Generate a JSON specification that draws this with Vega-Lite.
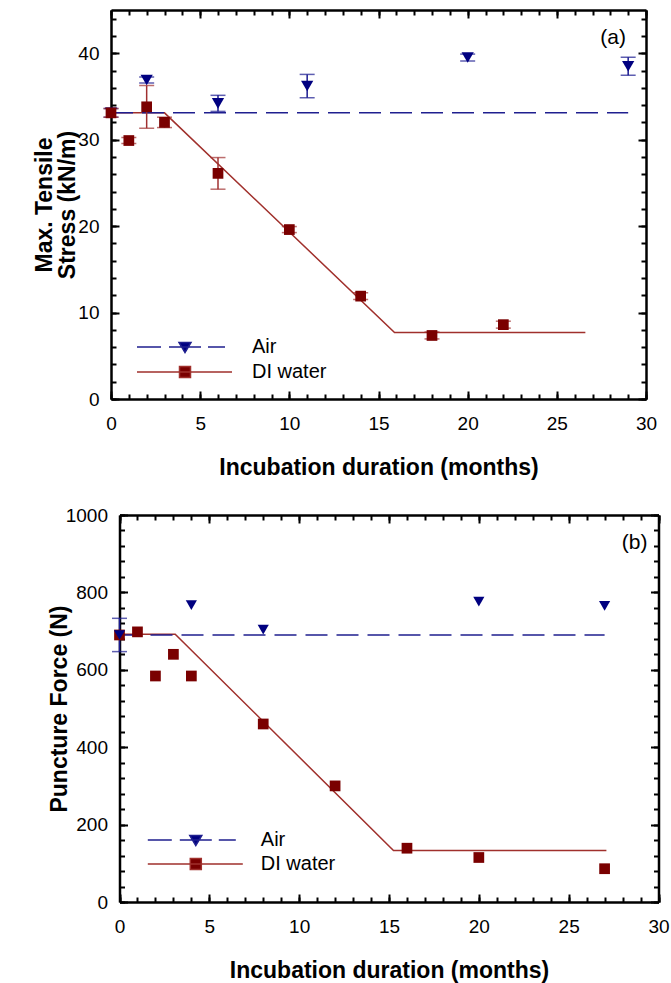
{
  "$schema": "https://vega.github.io/schema/vega-lite/v6.json",
  "padding": {"left": 33, "top": 9, "right": 5, "bottom": 2},
  "spacing": 116,
  "bounds": "flush",
  "datasets": {
    "a_pts": [
      {"s": "Air", "x": 0, "y": 33.1, "e": 0.5},
      {"s": "Air", "x": 2, "y": 36.9, "e": 0.35},
      {"s": "Air", "x": 6, "y": 34.2, "e": 0.93},
      {"s": "Air", "x": 11, "y": 36.2, "e": 1.35},
      {"s": "Air", "x": 20, "y": 39.5, "e": 0.4},
      {"s": "Air", "x": 29, "y": 38.5, "e": 1.04},
      {"s": "DI water", "x": 0, "y": 33.1, "e": 0.5},
      {"s": "DI water", "x": 1, "y": 29.9, "e": 0.35},
      {"s": "DI water", "x": 2, "y": 33.8, "e": 2.47},
      {"s": "DI water", "x": 3, "y": 32.0, "e": 0.6},
      {"s": "DI water", "x": 6, "y": 26.1, "e": 1.83},
      {"s": "DI water", "x": 10, "y": 19.6, "e": 0.35},
      {"s": "DI water", "x": 14, "y": 11.9, "e": 0.4},
      {"s": "DI water", "x": 18, "y": 7.35, "e": 0.4},
      {"s": "DI water", "x": 22, "y": 8.6, "e": 0.4}
    ],
    "a_fit": [
      {"s": "Air", "x": 0, "y": 33.1},
      {"s": "Air", "x": 29, "y": 33.1},
      {"s": "DI water", "x": 0, "y": 33.1},
      {"s": "DI water", "x": 3, "y": 33.1},
      {"s": "DI water", "x": 15.9, "y": 7.7},
      {"s": "DI water", "x": 26.6, "y": 7.7}
    ],
    "b_pts": [
      {"s": "DI water", "x": 0, "y": 690, "e": 0},
      {"s": "DI water", "x": 1, "y": 698, "e": 0},
      {"s": "DI water", "x": 2, "y": 584, "e": 0},
      {"s": "DI water", "x": 3, "y": 640, "e": 0},
      {"s": "DI water", "x": 4, "y": 584, "e": 0},
      {"s": "DI water", "x": 8, "y": 460, "e": 0},
      {"s": "DI water", "x": 12, "y": 300, "e": 0},
      {"s": "DI water", "x": 16, "y": 139, "e": 0},
      {"s": "DI water", "x": 20, "y": 115, "e": 0},
      {"s": "DI water", "x": 27, "y": 86, "e": 0},
      {"s": "Air", "x": 0, "y": 690, "e": 43},
      {"s": "Air", "x": 4, "y": 767, "e": 0},
      {"s": "Air", "x": 8, "y": 704, "e": 0},
      {"s": "Air", "x": 20, "y": 776, "e": 0},
      {"s": "Air", "x": 27, "y": 765, "e": 0}
    ],
    "b_fit": [
      {"s": "Air", "x": 0, "y": 690},
      {"s": "Air", "x": 27, "y": 690},
      {"s": "DI water", "x": 0, "y": 692},
      {"s": "DI water", "x": 3.1, "y": 692},
      {"s": "DI water", "x": 15.25, "y": 133},
      {"s": "DI water", "x": 27.1, "y": 133}
    ]
  },
  "vconcat": [
    {
      "width": 535,
      "height": 389,
      "title": {"text": "(a)", "anchor": "end", "frame": "group", "orient": "top", "offset": -39, "baseline": "top", "dx": -20, "fontSize": 21, "fontWeight": "normal", "font": "Liberation Sans", "color": "black"},
      "resolve": {"axis": {"x": "independent", "y": "independent"}, "scale": {"shape": "independent", "fill": "independent", "stroke": "independent", "size": "independent"}},
      "layer": [
        {
          "data": {"name": "a_fit"},
          "transform": [{"filter": "datum.s === 'DI water'"}],
          "mark": {"type": "line", "color": "#a0302c", "strokeWidth": 1.5},
          "encoding": {
            "x": {"field": "x", "type": "quantitative", "scale": {"domain": [0, 30], "nice": false},
              "axis": {"orient": "bottom", "values": [0, 5, 10, 15, 20, 25, 30], "ticks": false, "tickSize": 0, "labelPadding": 15, "title": "Incubation duration (months)", "titlePadding": 23}},
            "y": {"field": "y", "type": "quantitative", "scale": {"domain": [0, 45], "nice": false},
              "axis": {"orient": "left", "values": [0, 10, 20, 30, 40], "ticks": false, "tickSize": 0, "labelPadding": 12, "title": ["Max. Tensile", "Stress (kN/m)"], "titlePadding": -2, "titleLineHeight": 23}}
          }
        },
        {
          "data": {"name": "a_fit"},
          "transform": [{"filter": "datum.s === 'Air'"}],
          "mark": {"type": "line", "color": "#1f1f8f", "strokeWidth": 1.5, "strokeDash": [22, 9]},
          "encoding": {
            "x": {"field": "x", "type": "quantitative", "scale": {"domain": [0, 30], "nice": false},
              "axis": {"orient": "top", "values": [0, 30], "ticks": false, "labels": false, "domain": true, "title": null}},
            "y": {"field": "y", "type": "quantitative", "scale": {"domain": [0, 45], "nice": false},
              "axis": {"orient": "right", "values": [0, 45], "ticks": false, "labels": false, "domain": true, "title": null}}
          }
        },
        {
          "data": {"name": "a_pts"},
          "transform": [{"filter": "datum.s === 'Air' && datum.e > 0"}],
          "mark": {"type": "errorbar", "ticks": true, "size": 15, "thickness": 1.5, "color": "#1a1a90"},
          "encoding": {
            "x": {"field": "x", "type": "quantitative", "scale": {"domain": [0, 30], "nice": false}, "axis": null},
            "y": {"field": "y", "type": "quantitative", "scale": {"domain": [0, 45], "nice": false}, "axis": null},
            "yError": {"field": "e"}
          }
        },
        {
          "data": {"name": "a_pts"},
          "transform": [{"filter": "datum.s === 'DI water' && datum.e > 0"}],
          "mark": {"type": "errorbar", "ticks": true, "size": 15, "thickness": 1.5, "color": "#a03030"},
          "encoding": {
            "x": {"field": "x", "type": "quantitative", "scale": {"domain": [0, 30], "nice": false}, "axis": null},
            "y": {"field": "y", "type": "quantitative", "scale": {"domain": [0, 45], "nice": false}, "axis": null},
            "yError": {"field": "e"}
          }
        },
        {
          "data": {"name": "a_pts"},
          "mark": {"type": "point", "filled": true, "opacity": 1, "strokeWidth": 0},
          "encoding": {
            "x": {"field": "x", "type": "quantitative", "scale": {"domain": [0, 30], "nice": false},
              "axis": {"orient": "top", "offset": -389, "values": [0, 5, 10, 15, 20, 25, 30], "ticks": true, "tickSize": 8, "labels": false, "domain": false, "title": null}},
            "y": {"field": "y", "type": "quantitative", "scale": {"domain": [0, 45], "nice": false},
              "axis": {"orient": "right", "offset": -535, "values": [0, 10, 20, 30, 40], "ticks": true, "tickSize": 8, "labels": false, "domain": false, "title": null}},
            "shape": {"field": "s", "type": "nominal", "scale": {"domain": ["Air", "DI water"], "range": ["triangle-down", "square"]}, "legend": null},
            "fill": {"field": "s", "type": "nominal", "scale": {"domain": ["Air", "DI water"], "range": ["#000080", "#7a0000"]}, "legend": null},
            "size": {"field": "s", "type": "nominal", "scale": {"domain": ["Air", "DI water"], "range": [150, 115]}, "legend": null}
          }
        },
        {
          "data": {"name": "a_pts"},
          "mark": {"type": "point", "opacity": 0},
          "encoding": {
            "x": {"field": "x", "type": "quantitative", "scale": {"domain": [0, 30], "nice": false},
              "axis": {"orient": "top", "offset": -389, "values": [0,1,2,3,4,5,6,7,8,9,10,11,12,13,14,15,16,17,18,19,20,21,22,23,24,25,26,27,28,29,30], "ticks": true, "tickSize": 5, "labels": false, "domain": false, "title": null}},
            "y": {"field": "y", "type": "quantitative", "scale": {"domain": [0, 45], "nice": false},
              "axis": {"orient": "right", "offset": -535, "values": [0,2,4,6,8,10,12,14,16,18,20,22,24,26,28,30,32,34,36,38,40,42,44], "ticks": true, "tickSize": 5, "labels": false, "domain": false, "title": null}}
          }
        },
        {
          "data": {"name": "a_pts"},
          "mark": {"type": "point", "opacity": 0},
          "encoding": {
            "x": {"field": "x", "type": "quantitative", "scale": {"domain": [0, 30], "nice": false},
              "axis": {"orient": "bottom", "offset": -389, "values": [0, 5, 10, 15, 20, 25, 30], "ticks": true, "tickSize": 8, "labels": false, "domain": false, "title": null}},
            "y": {"field": "y", "type": "quantitative", "scale": {"domain": [0, 45], "nice": false},
              "axis": {"orient": "left", "offset": -535, "values": [0, 10, 20, 30, 40], "ticks": true, "tickSize": 8, "labels": false, "domain": false, "title": null}}
          }
        },
        {
          "data": {"name": "a_pts"},
          "mark": {"type": "point", "filled": true, "opacity": 0, "size": 400},
          "encoding": {
            "x": {"field": "x", "type": "quantitative", "scale": {"domain": [0, 30], "nice": false},
              "axis": {"orient": "bottom", "offset": -389, "values": [0,1,2,3,4,5,6,7,8,9,10,11,12,13,14,15,16,17,18,19,20,21,22,23,24,25,26,27,28,29,30], "ticks": true, "tickSize": 5, "labels": false, "domain": false, "title": null}},
            "y": {"field": "y", "type": "quantitative", "scale": {"domain": [0, 45], "nice": false},
              "axis": {"orient": "left", "offset": -535, "values": [0,2,4,6,8,10,12,14,16,18,20,22,24,26,28,30,32,34,36,38,40,42,44], "ticks": true, "tickSize": 5, "labels": false, "domain": false, "title": null}},
            "shape": {"field": "s", "type": "nominal", "scale": {"domain": ["Air", "DI water"], "range": ["M-4.8,0H-2.4M-1.6,0H1.6M2.3,0H4.0M-0.6,-0.45L0.6,-0.45L0,0.55Z", "M-4.8,0H4.7M-0.55,-0.55H0.55V0.55H-0.55Z"]},
              "legend": {"orient": "none", "legendX": 63, "legendY": 326, "title": null, "labelOffset": 56, "symbolSize": 400, "symbolStrokeWidth": 1.5, "symbolOpacity": 1, "rowPadding": 4, "padding": 0,
                "encode": {"symbols": {"update": {"fill": {"signal": "datum.value === 'Air' ? '#000080' : '#7a0000'"}, "fillOpacity": {"value": 1}, "opacity": {"value": 1}}}}}},
            "fill": {"field": "s", "type": "nominal", "scale": {"domain": ["Air", "DI water"], "range": ["#000080", "#7a0000"]},
              "legend": {"orient": "none", "legendX": 63, "legendY": 326, "title": null, "labelOffset": 56, "symbolSize": 400, "symbolStrokeWidth": 1.5, "symbolOpacity": 1, "rowPadding": 4, "padding": 0,
                "encode": {"symbols": {"update": {"fill": {"signal": "datum.value === 'Air' ? '#000080' : '#7a0000'"}, "fillOpacity": {"value": 1}, "opacity": {"value": 1}}}}}},
            "stroke": {"field": "s", "type": "nominal", "scale": {"domain": ["Air", "DI water"], "range": ["#1f1f8f", "#a0302c"]},
              "legend": {"orient": "none", "legendX": 63, "legendY": 326, "title": null, "labelOffset": 56, "symbolSize": 400, "symbolStrokeWidth": 1.5, "symbolOpacity": 1, "rowPadding": 4, "padding": 0,
                "encode": {"symbols": {"update": {"fill": {"signal": "datum.value === 'Air' ? '#000080' : '#7a0000'"}, "fillOpacity": {"value": 1}, "opacity": {"value": 1}}}}}}
          }
        }
      ]
    },
    {
      "width": 547.5,
      "height": 387,
      "title": {"text": "(b)", "anchor": "end", "frame": "group", "orient": "top", "offset": -47, "baseline": "top", "dx": -11, "fontSize": 21, "fontWeight": "normal", "font": "Liberation Sans", "color": "black"},
      "resolve": {"axis": {"x": "independent", "y": "independent"}, "scale": {"shape": "independent", "fill": "independent", "stroke": "independent", "size": "independent"}},
      "layer": [
        {
          "data": {"name": "b_fit"},
          "transform": [{"filter": "datum.s === 'DI water'"}],
          "mark": {"type": "line", "color": "#a0302c", "strokeWidth": 1.5},
          "encoding": {
            "x": {"field": "x", "type": "quantitative", "scale": {"domain": [0, 30], "nice": false, "rangeMin": 8.5},
              "axis": {"orient": "bottom", "values": [0, 5, 10, 15, 20, 25, 30], "ticks": false, "tickSize": 0, "labelPadding": 15, "title": "Incubation duration (months)", "titlePadding": 23}},
            "y": {"field": "y", "type": "quantitative", "scale": {"domain": [0, 1000], "nice": false},
              "axis": {"orient": "left", "offset": -8.5, "values": [0, 200, 400, 600, 800, 1000], "format": "d", "ticks": false, "tickSize": 0, "labelPadding": 12, "title": "Puncture Force (N)", "titlePadding": -6}}
          }
        },
        {
          "data": {"name": "b_fit"},
          "transform": [{"filter": "datum.s === 'Air'"}],
          "mark": {"type": "line", "color": "#1f1f8f", "strokeWidth": 1.5, "strokeDash": [22, 9]},
          "encoding": {
            "x": {"field": "x", "type": "quantitative", "scale": {"domain": [0, 30], "nice": false, "rangeMin": 8.5},
              "axis": {"orient": "top", "values": [0, 30], "ticks": false, "labels": false, "domain": true, "title": null}},
            "y": {"field": "y", "type": "quantitative", "scale": {"domain": [0, 1000], "nice": false},
              "axis": {"orient": "right", "values": [0, 1000], "ticks": false, "labels": false, "domain": true, "title": null}}
          }
        },
        {
          "data": {"name": "b_pts"},
          "transform": [{"filter": "datum.s === 'Air' && datum.e > 0"}],
          "mark": {"type": "errorbar", "ticks": true, "size": 15, "thickness": 1.5, "color": "#1a1a90"},
          "encoding": {
            "x": {"field": "x", "type": "quantitative", "scale": {"domain": [0, 30], "nice": false, "rangeMin": 8.5}, "axis": null},
            "y": {"field": "y", "type": "quantitative", "scale": {"domain": [0, 1000], "nice": false}, "axis": null},
            "yError": {"field": "e"}
          }
        },
        {
          "data": {"name": "b_pts"},
          "mark": {"type": "point", "filled": true, "opacity": 1, "strokeWidth": 0},
          "encoding": {
            "x": {"field": "x", "type": "quantitative", "scale": {"domain": [0, 30], "nice": false, "rangeMin": 8.5},
              "axis": {"orient": "top", "offset": -387, "values": [0, 5, 10, 15, 20, 25, 30], "ticks": true, "tickSize": 8, "labels": false, "domain": false, "title": null}},
            "y": {"field": "y", "type": "quantitative", "scale": {"domain": [0, 1000], "nice": false},
              "axis": {"orient": "right", "offset": -539, "values": [0, 200, 400, 600, 800, 1000], "ticks": true, "tickSize": 8, "labels": false, "domain": false, "title": null}},
            "shape": {"field": "s", "type": "nominal", "scale": {"domain": ["Air", "DI water"], "range": ["triangle-down", "square"]}, "legend": null},
            "fill": {"field": "s", "type": "nominal", "scale": {"domain": ["Air", "DI water"], "range": ["#000080", "#7a0000"]}, "legend": null},
            "size": {"field": "s", "type": "nominal", "scale": {"domain": ["Air", "DI water"], "range": [125, 115]}, "legend": null}
          }
        },
        {
          "data": {"name": "b_pts"},
          "mark": {"type": "point", "opacity": 0},
          "encoding": {
            "x": {"field": "x", "type": "quantitative", "scale": {"domain": [0, 30], "nice": false, "rangeMin": 8.5},
              "axis": {"orient": "top", "offset": -387, "values": [0,1,2,3,4,5,6,7,8,9,10,11,12,13,14,15,16,17,18,19,20,21,22,23,24,25,26,27,28,29,30], "ticks": true, "tickSize": 5, "labels": false, "domain": false, "title": null}},
            "y": {"field": "y", "type": "quantitative", "scale": {"domain": [0, 1000], "nice": false},
              "axis": {"orient": "right", "offset": -539, "values": [0,40,80,120,160,200,240,280,320,360,400,440,480,520,560,600,640,680,720,760,800,840,880,920,960,1000], "ticks": true, "tickSize": 5, "labels": false, "domain": false, "title": null}}
          }
        },
        {
          "data": {"name": "b_pts"},
          "mark": {"type": "point", "opacity": 0},
          "encoding": {
            "x": {"field": "x", "type": "quantitative", "scale": {"domain": [0, 30], "nice": false, "rangeMin": 8.5},
              "axis": {"orient": "bottom", "offset": -387, "values": [0, 5, 10, 15, 20, 25, 30], "ticks": true, "tickSize": 8, "labels": false, "domain": false, "title": null}},
            "y": {"field": "y", "type": "quantitative", "scale": {"domain": [0, 1000], "nice": false},
              "axis": {"orient": "left", "offset": -547.5, "values": [0, 200, 400, 600, 800, 1000], "ticks": true, "tickSize": 8, "labels": false, "domain": false, "title": null}}
          }
        },
        {
          "data": {"name": "b_pts"},
          "mark": {"type": "point", "filled": true, "opacity": 0, "size": 400},
          "encoding": {
            "x": {"field": "x", "type": "quantitative", "scale": {"domain": [0, 30], "nice": false, "rangeMin": 8.5},
              "axis": {"orient": "bottom", "offset": -387, "values": [0,1,2,3,4,5,6,7,8,9,10,11,12,13,14,15,16,17,18,19,20,21,22,23,24,25,26,27,28,29,30], "ticks": true, "tickSize": 5, "labels": false, "domain": false, "title": null}},
            "y": {"field": "y", "type": "quantitative", "scale": {"domain": [0, 1000], "nice": false},
              "axis": {"orient": "left", "offset": -547.5, "values": [0,40,80,120,160,200,240,280,320,360,400,440,480,520,560,600,640,680,720,760,800,840,880,920,960,1000], "ticks": true, "tickSize": 5, "labels": false, "domain": false, "title": null}},
            "shape": {"field": "s", "type": "nominal", "scale": {"domain": ["Air", "DI water"], "range": ["M-4.8,0H-2.4M-1.6,0H1.6M2.3,0H4.0M-0.6,-0.45L0.6,-0.45L0,0.55Z", "M-4.8,0H4.7M-0.55,-0.55H0.55V0.55H-0.55Z"]},
              "legend": {"orient": "none", "legendX": 73.8, "legendY": 314, "title": null, "labelOffset": 54, "symbolSize": 400, "symbolStrokeWidth": 1.5, "symbolOpacity": 1, "rowPadding": 3, "padding": 0,
                "encode": {"symbols": {"update": {"fill": {"signal": "datum.value === 'Air' ? '#000080' : '#7a0000'"}, "fillOpacity": {"value": 1}, "opacity": {"value": 1}}}}}},
            "fill": {"field": "s", "type": "nominal", "scale": {"domain": ["Air", "DI water"], "range": ["#000080", "#7a0000"]},
              "legend": {"orient": "none", "legendX": 73.8, "legendY": 314, "title": null, "labelOffset": 54, "symbolSize": 400, "symbolStrokeWidth": 1.5, "symbolOpacity": 1, "rowPadding": 3, "padding": 0,
                "encode": {"symbols": {"update": {"fill": {"signal": "datum.value === 'Air' ? '#000080' : '#7a0000'"}, "fillOpacity": {"value": 1}, "opacity": {"value": 1}}}}}},
            "stroke": {"field": "s", "type": "nominal", "scale": {"domain": ["Air", "DI water"], "range": ["#1f1f8f", "#a0302c"]},
              "legend": {"orient": "none", "legendX": 73.8, "legendY": 314, "title": null, "labelOffset": 54, "symbolSize": 400, "symbolStrokeWidth": 1.5, "symbolOpacity": 1, "rowPadding": 3, "padding": 0,
                "encode": {"symbols": {"update": {"fill": {"signal": "datum.value === 'Air' ? '#000080' : '#7a0000'"}, "fillOpacity": {"value": 1}, "opacity": {"value": 1}}}}}}
          }
        }
      ]
    }
  ],
  "config": {
    "view": {"stroke": null},
    "axis": {"grid": false, "domainColor": "black", "tickColor": "black", "labelColor": "black", "titleColor": "black", "labelFont": "Liberation Sans", "titleFont": "Liberation Sans", "labelFontSize": 19, "titleFontSize": 23, "titleFontWeight": "bold", "tickWidth": 2, "domainWidth": 2.5, "labelFlush": false, "labelOverlap": false},
    "legend": {"labelFont": "Liberation Sans", "labelFontSize": 20, "labelColor": "black"}
  }
}
